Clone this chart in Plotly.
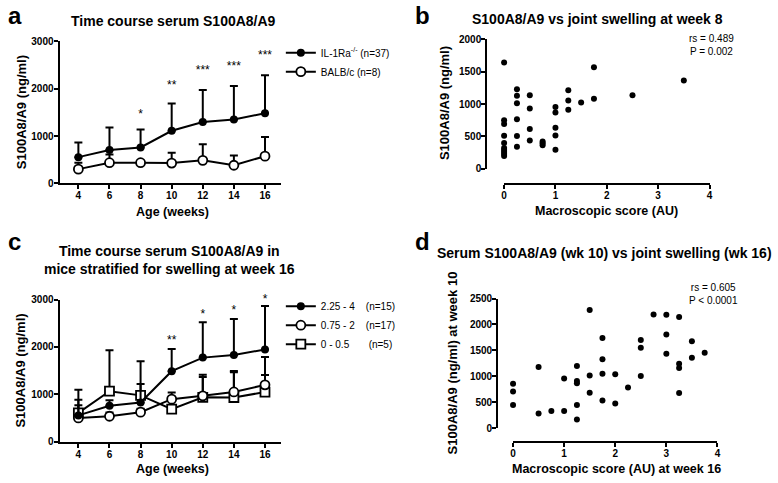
import plotly.graph_objects as go

FONT = "Liberation Sans, Arial, Helvetica, sans-serif"
W, H = 778, 483

# ---------------- Panel a data ----------------
weeks = [4, 6, 8, 10, 12, 14, 16]
week_ticks = [4, 6, 8, 10, 12, 14, 16]
il1ra_mean = [555, 705, 760, 1110, 1294, 1349, 1479]
il1ra_upper = [863, 1178, 1140, 1685, 1972, 2055, 2281]
balb_mean = [302, 438, 438, 430, 487, 384, 575]
balb_upper = [438, 610, 480, 650, 828, 589, 980]
a_star_weeks = [8, 10, 12, 14, 16]
a_star_text = ["*", "**", "***", "***", "***"]
a_star_y = [1450, 2060, 2370, 2450, 2680]

# ---------------- Panel b data ----------------
b_score = [0, 0, 0, 0, 0, 0, 0, 0, 0, 0,
           0.25, 0.25, 0.25, 0.25, 0.25, 0.25,
           0.5, 0.5, 0.5, 0.5,
           0.75, 0.75, 0.75,
           1, 1, 1, 1, 1,
           1.25, 1.25, 1.25,
           1.5,
           1.75, 1.75,
           2.5,
           3.5]
b_s100 = [1640, 750, 690, 510, 400, 320, 290, 260, 230, 200,
          1226, 1126, 1010, 764, 507, 342,
          1136, 930, 613, 437,
          420, 395, 365,
          955, 869, 633, 513, 296,
          1211, 1055, 910,
          1025,
          1568, 1080,
          1136,
          1362]

# ---------------- Panel c data ----------------
sev_mean = [558, 762, 830, 1490, 1776, 1831, 1947]
sev_upper = [890, 880, 1220, 1960, 2522, 2590, 2863]
mod_mean = [505, 540, 626, 900, 970, 1052, 1202]
mod_upper = [770, 620, 700, 1040, 1415, 1496, 1790]
mild_mean = [612, 1068, 980, 690, 940, 935, 1050]
mild_upper = [1100, 1930, 1700, 900, 1370, 1469, 1407]
c_star_weeks = [10, 12, 14, 16]
c_star_text = ["**", "*", "*", "*"]
c_star_y = [2120, 2680, 2750, 2990]

# ---------------- Panel d data ----------------
d_score = [0, 0, 0,
           0.5, 0.5,
           0.75,
           1, 1,
           1.25, 1.25, 1.25, 1.25, 1.25,
           1.5, 1.5, 1.5,
           1.75, 1.75, 1.75, 1.75,
           2, 2,
           2.25,
           2.5, 2.5, 2.5,
           2.75,
           3, 3, 3,
           3.25, 3.25, 3.25, 3.25,
           3.5, 3.5,
           3.75]
d_s100 = [860, 710, 446,
          1181, 283,
          333,
          961, 333,
          1200, 911, 867, 446, 170,
          2280, 1018, 685,
          1740, 1332, 1049, 534,
          1043, 477,
          785,
          1702, 1551, 1005,
          2192,
          2186, 1809, 1438,
          2142, 1245, 1160, 678,
          1677, 1357,
          1457]


def up(upper, mean):
    return [u - m for u, m in zip(upper, mean)]


def zeros(n):
    return [0] * n


fig = go.Figure()

err_style = dict(type="data", symmetric=False, color="black", thickness=2, width=4)

# Panel a
fig.add_trace(go.Scatter(
    x=weeks, y=balb_mean, mode="lines+markers", name="BALB/c (n=8)",
    line=dict(color="black", width=2),
    marker=dict(symbol="circle", size=9, color="white", line=dict(color="black", width=1.8)),
    error_y=dict(array=up(balb_upper, balb_mean), arrayminus=zeros(7), **err_style),
    xaxis="x", yaxis="y", legend="legend", legendrank=2, cliponaxis=False))
fig.add_trace(go.Scatter(
    x=weeks, y=il1ra_mean, mode="lines+markers", name="IL-1Ra<sup>-/-</sup> (n=37)",
    line=dict(color="black", width=2),
    marker=dict(symbol="circle", size=8, color="black"),
    error_y=dict(array=up(il1ra_upper, il1ra_mean), arrayminus=zeros(7), **err_style),
    xaxis="x", yaxis="y", legend="legend", legendrank=1, cliponaxis=False))
fig.add_trace(go.Scatter(
    x=a_star_weeks, y=a_star_y, mode="text", text=a_star_text, showlegend=False,
    textfont=dict(family=FONT, size=12, color="black"), xaxis="x", yaxis="y", cliponaxis=False))

# Panel b
fig.add_trace(go.Scatter(
    x=b_score, y=b_s100, mode="markers", showlegend=False,
    marker=dict(size=6, color="black"), xaxis="x2", yaxis="y2", cliponaxis=False))

# Panel c
fig.add_trace(go.Scatter(
    x=weeks, y=mild_mean, mode="lines+markers", name="0 - 0.5\u00a0\u00a0\u00a0\u00a0\u00a0\u00a0\u00a0(n=5)",
    line=dict(color="black", width=2),
    marker=dict(symbol="square", size=9, color="white", line=dict(color="black", width=1.8)),
    error_y=dict(array=up(mild_upper, mild_mean), arrayminus=zeros(7), **err_style),
    xaxis="x3", yaxis="y3", legend="legend2", legendrank=3, cliponaxis=False))
fig.add_trace(go.Scatter(
    x=weeks, y=mod_mean, mode="lines+markers", name="0.75 - 2\u00a0\u00a0\u00a0\u00a0(n=17)",
    line=dict(color="black", width=2),
    marker=dict(symbol="circle", size=9, color="white", line=dict(color="black", width=1.8)),
    error_y=dict(array=up(mod_upper, mod_mean), arrayminus=zeros(7), **err_style),
    xaxis="x3", yaxis="y3", legend="legend2", legendrank=2, cliponaxis=False))
fig.add_trace(go.Scatter(
    x=weeks, y=sev_mean, mode="lines+markers", name="2.25 - 4\u00a0\u00a0\u00a0\u00a0(n=15)",
    line=dict(color="black", width=2),
    marker=dict(symbol="circle", size=8, color="black"),
    error_y=dict(array=up(sev_upper, sev_mean), arrayminus=zeros(7), **err_style),
    xaxis="x3", yaxis="y3", legend="legend2", legendrank=1, cliponaxis=False))
fig.add_trace(go.Scatter(
    x=c_star_weeks, y=c_star_y, mode="text", text=c_star_text, showlegend=False,
    textfont=dict(family=FONT, size=12, color="black"), xaxis="x3", yaxis="y3", cliponaxis=False))

# Panel d
fig.add_trace(go.Scatter(
    x=d_score, y=d_s100, mode="markers", showlegend=False,
    marker=dict(size=6, color="black"), xaxis="x4", yaxis="y4", cliponaxis=False))

tickfont = dict(family=FONT, size=10, color="black", weight="bold")


def axis(**kw):
    base = dict(showline=True, linewidth=2, linecolor="black", ticks="outside",
                ticklen=4, tickwidth=2, tickcolor="black", showgrid=False,
                zeroline=False, tickfont=tickfont, fixedrange=True, ticklabelstandoff=-2)
    base.update(kw)
    return base


def px_x(p):
    return p / W


def px_y(p):
    return 1 - p / H


fig.update_layout(
    width=W, height=H, margin=dict(l=0, r=0, t=0, b=0),
    paper_bgcolor="white", plot_bgcolor="white",
    font=dict(family=FONT, color="black"),
    xaxis=axis(domain=[px_x(57), px_x(280)], range=[2.79, 17.02], tickvals=week_ticks, anchor="y"),
    yaxis=axis(domain=[px_y(182), px_y(36)], range=[0, 3000], tickvals=[0, 1000, 2000, 3000], anchor="x"),
    xaxis2=axis(domain=[px_x(505), px_x(712)], range=[0, 4], tickvals=[0, 1, 2, 3, 4],
                anchor="free", position=px_y(183)),
    yaxis2=axis(domain=[px_y(167), px_y(34)], range=[0, 2000], tickvals=[0, 500, 1000, 1500, 2000],
                anchor="free", position=px_x(487)),
    xaxis3=axis(domain=[px_x(57), px_x(280)], range=[2.79, 17.02], tickvals=week_ticks, anchor="y3"),
    yaxis3=axis(domain=[px_y(447), px_y(301)], range=[0, 3000], tickvals=[0, 1000, 2000, 3000], anchor="x3"),
    xaxis4=axis(domain=[px_x(514), px_x(720)], range=[0, 4], tickvals=[0, 1, 2, 3, 4],
                anchor="free", position=px_y(447)),
    yaxis4=axis(domain=[px_y(433), px_y(300)], range=[0, 2500], tickvals=[0, 500, 1000, 1500, 2000, 2500],
                anchor="free", position=px_x(498)),
    legend=dict(x=px_x(280), y=px_y(33), xanchor="left", yanchor="top",
                font=dict(family=FONT, size=10, color="black"), bgcolor="rgba(0,0,0,0)",
                itemwidth=30, tracegroupgap=0, traceorder="normal"),
    legend2=dict(x=px_x(280), y=px_y(293), xanchor="left", yanchor="top",
                 font=dict(family=FONT, size=10, color="black"), bgcolor="rgba(0,0,0,0)",
                 itemwidth=30, tracegroupgap=0, traceorder="normal"),
)

ann = []


def text(x, y, s, size, bold=True, angle=0, xanchor="center", yanchor="middle"):
    ann.append(dict(x=px_x(x), y=px_y(y), xref="paper", yref="paper", text=s, showarrow=False,
                    textangle=angle, xanchor=xanchor, yanchor=yanchor,
                    font=dict(family=FONT, size=size, color="black", weight="bold" if bold else "normal")))


# panel letters
text(12, 10, "a", 24)
text(423, 10, "b", 24)
text(12, 242, "c", 24)
text(423, 242, "d", 24)
# titles
text(172, 15, "Time course serum S100A8/A9", 14)
text(599, 13, "S100A8/A9 vs joint swelling at week 8", 14)
text(168, 260, "Time course serum S100A8/A9 in<br>mice stratified for swelling at week 16", 14)
text(606, 253, "Serum S100A8/A9 (wk 10) vs joint swelling (wk 16)", 14)
# axis titles
text(171, 211, "Age (weeks)", 12.5)
text(18, 109, "S100A8/A9 (ng/ml)", 13, angle=-90)
text(608, 210, "Macroscopic score (AU)", 12.5)
text(445, 100, "S100A8/A9 (ng/ml)", 13, angle=-90)
text(171, 475, "Age (weeks)", 12.5)
text(18, 374, "S100A8/A9 (ng/ml)", 13, angle=-90)
text(618, 475, "Macroscopic score (AU) at week 16", 12.5)
text(453, 366, "S100A8/A9 (ng/ml) at week 10", 13, angle=-90)
# statistics
text(689, 40, "rs = 0.489<br>P = 0.002", 10, bold=False, xanchor="left")
text(689, 295, "rs = 0.605<br>P < 0.0001", 10, bold=False, xanchor="left")

fig.update_layout(annotations=ann)
fig.write_html("out.html", config={"displayModeBar": False},
               post_script="document.body.style.margin='0';document.body.style.overflow='hidden';")
